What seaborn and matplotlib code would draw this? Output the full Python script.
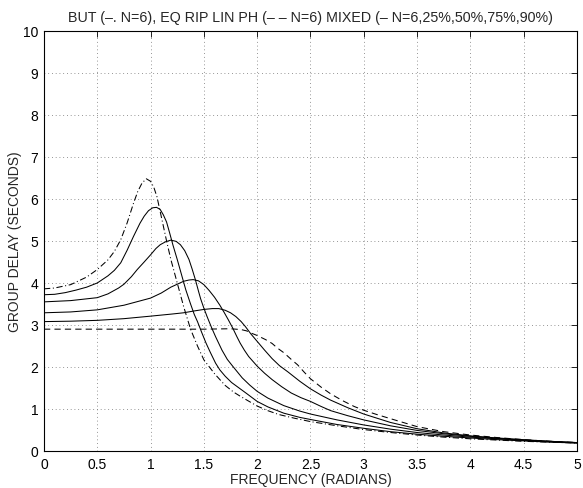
import numpy as np
import pandas as pd
import matplotlib
matplotlib.use("Agg")
import matplotlib.pyplot as plt
import seaborn as sns

# Butterworth N=6 (dash-dot)
but_x = [0, 0.1, 0.25, 0.4, 0.5, 0.6, 0.66, 0.72, 0.78, 0.84, 0.88, 0.92, 0.96, 1.0, 1.03, 1.06, 1.09,
         1.12, 1.15, 1.19, 1.25, 1.31, 1.375, 1.44, 1.5, 1.6, 1.7, 1.78, 1.85, 2.0, 2.1, 2.2, 2.35, 2.5,
         2.75, 3.0, 3.25, 3.5, 3.75, 4.0, 4.25, 4.5, 4.75, 5.0]
but_y = [3.86, 3.88, 3.96, 4.14, 4.32, 4.55, 4.75, 5.03, 5.43, 5.90, 6.18, 6.38, 6.48, 6.42, 6.28, 6.05, 5.70,
         5.35, 5.00, 4.56, 4.00, 3.44, 2.90, 2.50, 2.17, 1.84, 1.56, 1.40, 1.29, 1.07, 0.96, 0.87, 0.78, 0.70,
         0.60, 0.51, 0.44, 0.38, 0.33, 0.29, 0.26, 0.23, 0.21, 0.19]

# Equiripple linear phase N=6 (dashed)
lp_x = [0, 1.0, 1.5, 1.75, 1.85, 1.9, 1.95, 2.0, 2.08, 2.14, 2.19, 2.25, 2.32, 2.38, 2.44, 2.5, 2.6,
        2.69, 2.8, 2.91, 3.0, 3.12, 3.25, 3.5, 3.75, 4.0, 4.25, 4.5, 4.75, 5.0]
lp_y = [2.90, 2.90, 2.90, 2.91, 2.89, 2.86, 2.80, 2.75, 2.65, 2.56, 2.45, 2.34, 2.18, 2.05, 1.88, 1.72, 1.52,
        1.36, 1.20, 1.06, 0.97, 0.87, 0.77, 0.58, 0.46, 0.38, 0.32, 0.27, 0.23, 0.20]

# Mixed filters (solid)
m1_x = [0, 0.1, 0.2, 0.3, 0.4, 0.5, 0.6, 0.66, 0.72, 0.78, 0.84, 0.9, 0.94, 0.98, 1.02, 1.056, 1.09,
        1.12, 1.15, 1.18, 1.21, 1.25, 1.29, 1.33, 1.375, 1.41, 1.44, 1.48, 1.52, 1.56, 1.61, 1.65, 1.7,
        1.76, 1.83, 1.9, 2.0, 2.1, 2.25, 2.4, 2.5, 2.75, 3.0, 3.25, 3.5, 3.75, 4.0, 4.25, 4.5, 4.75, 5.0]
m1_y = [3.72, 3.73, 3.77, 3.83, 3.90, 4.00, 4.17, 4.30, 4.48, 4.78, 5.11, 5.42, 5.59, 5.72, 5.79, 5.80, 5.75,
        5.62, 5.45, 5.18, 4.90, 4.56, 4.20, 3.84, 3.50, 3.25, 3.08, 2.82, 2.57, 2.35, 2.09, 1.93, 1.78,
        1.63, 1.50, 1.37, 1.18, 1.05, 0.90, 0.80, 0.75, 0.63, 0.54, 0.46, 0.40, 0.35, 0.31, 0.27, 0.24, 0.21, 0.19]

m2_x = [0, 0.25, 0.5, 0.6, 0.7, 0.75, 0.82, 0.875, 0.94, 1.0, 1.05, 1.09, 1.14, 1.19, 1.24, 1.28, 1.32,
        1.36, 1.39, 1.42, 1.45, 1.47, 1.5, 1.53, 1.57, 1.61, 1.67, 1.72, 1.77, 1.86, 1.93, 2.0, 2.1,
        2.25, 2.4, 2.5, 2.75, 3.0, 3.25, 3.5, 3.75, 4.0, 4.25, 4.5, 4.75, 5.0]
m2_y = [3.55, 3.58, 3.65, 3.74, 3.88, 3.97, 4.15, 4.32, 4.50, 4.67, 4.82, 4.91, 4.98, 5.02, 4.99, 4.91, 4.77,
        4.56, 4.33, 4.08, 3.80, 3.62, 3.40, 3.20, 2.95, 2.72, 2.40, 2.18, 2.02, 1.74, 1.57, 1.42, 1.26,
        1.08, 0.95, 0.88, 0.74, 0.62, 0.52, 0.44, 0.38, 0.33, 0.29, 0.25, 0.22, 0.19]

m3_x = [0, 0.25, 0.5, 0.75, 1.0, 1.1, 1.19, 1.25, 1.31, 1.36, 1.40, 1.45, 1.5, 1.55, 1.6, 1.65, 1.69,
        1.73, 1.77, 1.81, 1.84, 1.88, 1.92, 2.0, 2.07, 2.14, 2.23, 2.32, 2.41, 2.5, 2.6, 2.69, 2.85,
        3.0, 3.25, 3.5, 3.75, 4.0, 4.25, 4.5, 4.75, 5.0]
m3_y = [3.29, 3.31, 3.36, 3.47, 3.64, 3.76, 3.90, 3.97, 4.04, 4.07, 4.08, 4.05, 3.96, 3.82, 3.66, 3.47, 3.30,
        3.12, 2.93, 2.72, 2.57, 2.40, 2.25, 2.02, 1.85, 1.70, 1.53, 1.38, 1.27, 1.18, 1.06, 0.96, 0.84,
        0.74, 0.60, 0.49, 0.41, 0.35, 0.30, 0.26, 0.23, 0.20]

m4_x = [0, 0.25, 0.5, 0.75, 1.0, 1.2, 1.31, 1.4, 1.5, 1.58, 1.64, 1.70, 1.75, 1.80, 1.85, 1.89, 1.94,
        2.0, 2.07, 2.14, 2.21, 2.29, 2.4, 2.5, 2.6, 2.69, 2.85, 3.0, 3.25, 3.5, 3.75, 4.0, 4.25, 4.5,
        4.75, 5.0]
m4_y = [3.08, 3.09, 3.11, 3.15, 3.21, 3.26, 3.29, 3.33, 3.37, 3.39, 3.39, 3.35, 3.29, 3.20, 3.08, 2.96, 2.79,
        2.61, 2.40, 2.20, 2.03, 1.88, 1.66, 1.48, 1.33, 1.21, 1.03, 0.88, 0.68, 0.53, 0.43, 0.36, 0.31, 0.27,
        0.23, 0.20]

x_ticks = [0, 0.5, 1, 1.5, 2, 2.5, 3, 3.5, 4, 4.5, 5]
x_tick_labels = ["0", "0.5", "1", "1.5", "2", "2.5", "3", "3.5", "4", "4.5", "5"]
y_ticks = list(range(0, 11))

title = "BUT (\u2013. N=6), EQ RIP LIN PH (\u2013 \u2013 N=6) MIXED (\u2013 N=6,25%,50%,75%,90%)"
xlabel = "FREQUENCY (RADIANS)"
ylabel = "GROUP DELAY (SECONDS)"

sns.set_style("white")
plt.rcParams['font.family'] = ['Liberation Sans', 'DejaVu Sans']

fig = plt.figure(figsize=(5.83, 4.89), dpi=100)
ax = fig.add_axes([0.0755, 0.0757, 0.914, 0.859])

curves = [
    (but_x, but_y, (0, (6, 2.5, 1, 2.5))),
    (lp_x, lp_y, (0, (6, 4))),
    (m1_x, m1_y, '-'),
    (m2_x, m2_y, '-'),
    (m3_x, m3_y, '-'),
    (m4_x, m4_y, '-'),
]
for xs, ys, ls in curves:
    df = pd.DataFrame({"x": xs, "y": ys})
    sns.lineplot(data=df, x="x", y="y", ax=ax, color="black", linewidth=0.75,
                 linestyle=ls, sort=False, estimator=None)

ax.set_xlim(0, 5)
ax.set_ylim(0, 10)
ax.set_xticks(x_ticks)
ax.set_xticklabels(x_tick_labels)
ax.set_yticks(y_ticks)
ax.grid(True, linestyle=(0, (1, 3.5)), color="0.45", linewidth=0.6)
ax.tick_params(direction="in", top=True, right=True, length=4, width=0.6,
               labelsize=10, pad=4, colors="black")
for s in ax.spines.values():
    s.set_visible(True)
    s.set_color("black")
    s.set_linewidth(0.8)

ax.set_title(title, fontsize=10.3, pad=7)
ax.set_xlabel(xlabel, fontsize=10, labelpad=1)
ax.set_ylabel(ylabel, fontsize=10, labelpad=1)

fig.savefig("out.png", dpi=100)
